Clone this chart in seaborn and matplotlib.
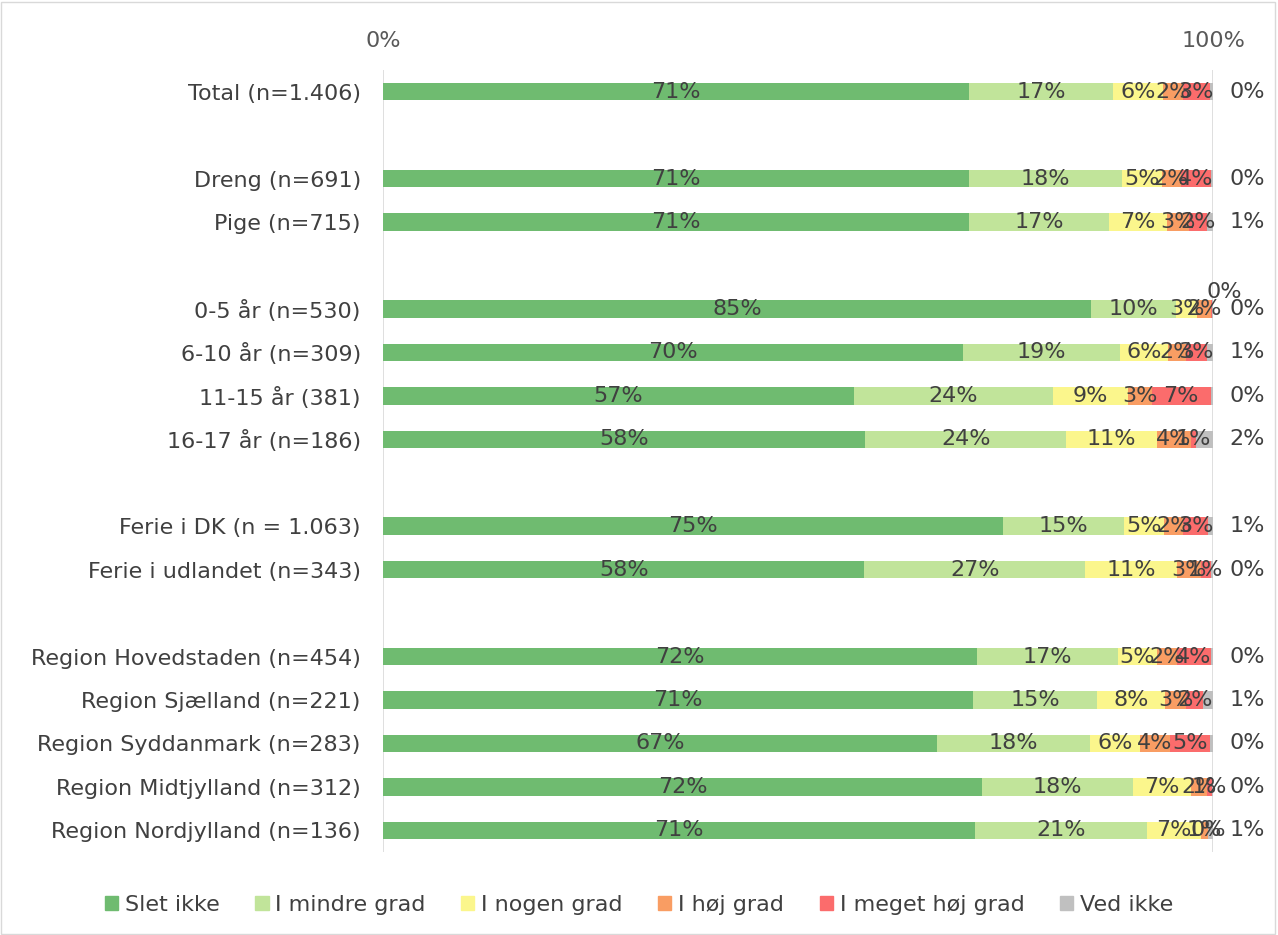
import seaborn as sns
import matplotlib.pyplot as plt
import matplotlib.patches as mpatches
import pandas as pd

# rows of the chart, blank entries are the spacer rows between groups
groups = ["Total (n=1.406)", "",
          "Dreng (n=691)", "Pige (n=715)", " ",
          "0-5 år (n=530)", "6-10 år (n=309)", "11-15 år (381)", "16-17 år (n=186)", "  ",
          "Ferie i DK (n = 1.063)", "Ferie i udlandet (n=343)", "   ",
          "Region Hovedstaden (n=454)", "Region Sjælland (n=221)", "Region Syddanmark (n=283)",
          "Region Midtjylland (n=312)", "Region Nordjylland (n=136)"]

series = ["Slet ikke", "I mindre grad", "I nogen grad", "I høj grad", "I meget høj grad", "Ved ikke"]
colors = ["#6FBB70", "#C1E49A", "#FBF68C", "#F99D63", "#FB6C6C", "#C0C0C0"]

slet_ikke   = [70.6, 0, 70.6, 70.6, 0, 85.3, 69.9, 56.7, 58.1, 0, 74.7, 58.0, 0, 71.6, 71.1, 66.8, 72.2, 71.3]
mindre_grad = [17.4, 0, 18.4, 16.9, 0, 10.2, 18.9, 24.0, 24.2, 0, 14.6, 26.6, 0, 16.9, 14.9, 18.4, 18.2, 20.7]
nogen_grad  = [6.0, 0, 4.9, 7.0, 0, 2.6, 5.8, 9.1, 10.9, 0, 4.8, 11.1, 0, 4.8, 8.2, 6.0, 6.9, 6.6]
hoej_grad   = [2.4, 0, 2.2, 2.6, 0, 1.6, 2.1, 2.8, 4.1, 0, 2.3, 2.8, 0, 2.4, 2.6, 3.6, 2.0, 0.8]
meget_hoej  = [3.2, 0, 3.6, 2.2, 0, 0.2, 2.6, 7.1, 0.7, 0, 3.0, 1.2, 0, 4.0, 2.0, 4.8, 0.6, 0.0]
ved_ikke    = [0.4, 0, 0.3, 0.7, 0, 0.1, 0.7, 0.3, 2.0, 0, 0.6, 0.3, 0, 0.3, 1.2, 0.4, 0.1, 0.6]

blank = {"", " ", "  ", "   "}

df = pd.DataFrame({"group": groups, series[0]: slet_ikke, series[1]: mindre_grad,
                   series[2]: nogen_grad, series[3]: hoej_grad,
                   series[4]: meget_hoej, series[5]: ved_ikke})
cum = df[series].cumsum(axis=1)

sns.set_style("white")
plt.rcParams["font.family"] = ["DejaVu Sans"]

fig = plt.figure(figsize=(12.78, 9.35), dpi=100)
ax = fig.add_axes([383/1278, 1 - 852/935, 830/1278, 782/935])

ax.axvline(0, color="#D9D9D9", linewidth=1.2, zorder=0)
ax.axvline(100, color="#D9D9D9", linewidth=1.2, zorder=0)

# stacked bars: draw cumulative totals from the outermost inward
for i in range(len(series) - 1, -1, -1):
    sns.barplot(x=cum[series[i]], y=df["group"], order=groups, orient="h",
                color=colors[i], width=0.4, saturation=1, linewidth=0, ax=ax)

txt = "#404040"
for r, g in enumerate(groups):
    if g in blank:
        continue
    left = 0
    for i, s in enumerate(series):
        v = df.loc[r, s]
        xpos, ypos = left + v / 2, r
        if s == "Ved ikke":
            xpos = 104.1
        if r == 5 and s == "I meget høj grad":
            xpos, ypos = 101.4, r - 0.38
        ax.text(xpos, ypos, f"{round(v + 1e-9):.0f}%", ha="center", va="center",
                fontsize=16, color=txt)
        left += v

ax.set_xlim(0, 100)
ax.set_ylim(len(groups) - 0.5, -0.5)
ax.xaxis.tick_top()
ax.set_xticks([0, 100])
ax.set_xticklabels(["0%", "100%"])
ax.tick_params(axis="x", length=0, pad=14, labelsize=16, labelcolor="#595959")
ax.tick_params(axis="y", length=0, pad=16, labelsize=16, labelcolor="#404040")
ax.set_xlabel("")
ax.set_ylabel("")
for sp in ax.spines.values():
    sp.set_visible(False)

handles = [mpatches.Patch(color=c, label=s) for s, c in zip(series, colors)]
fig.legend(handles=handles, loc="center", bbox_to_anchor=(0.5, 1 - 905/935), ncol=6,
           frameon=False, fontsize=16, handlelength=0.6, handleheight=0.6,
           handletextpad=0.3, columnspacing=1.6, labelcolor="#404040")

fig.patches.append(mpatches.Rectangle((0.001, 0.001), 0.997, 0.997, transform=fig.transFigure,
                                      fill=False, edgecolor="#D9D9D9", linewidth=1))

fig.savefig("out.png", dpi=100)
